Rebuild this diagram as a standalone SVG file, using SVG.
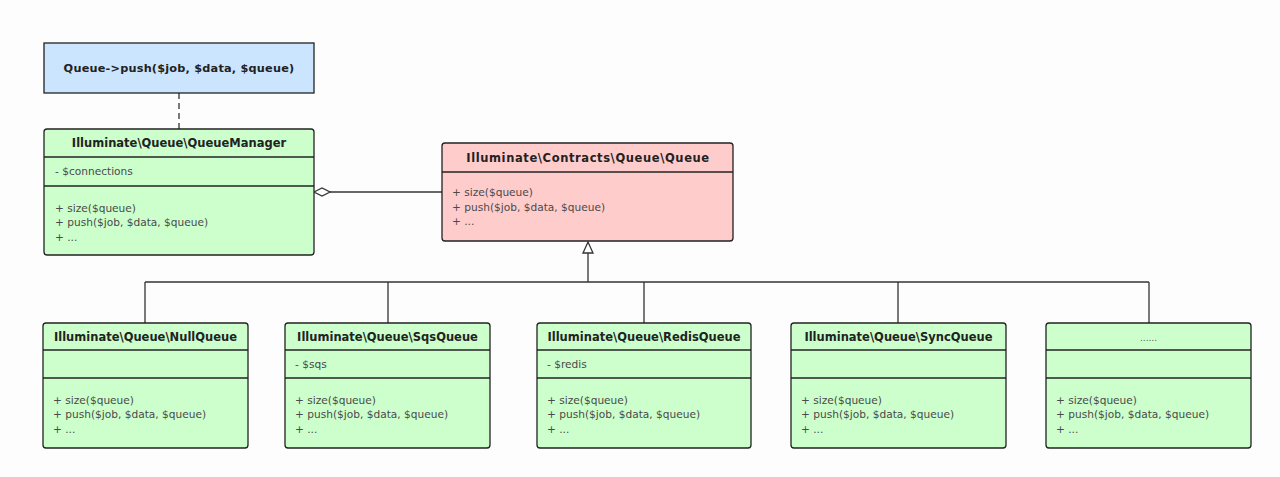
<svg xmlns="http://www.w3.org/2000/svg" width="1280" height="477" viewBox="0 0 1280 477">
<style>
.bg{fill:#fdfdfd}
.box{stroke:#222;stroke-width:1.3}
.green{fill:#ccffcc}
.blue{fill:#cce5ff}
.pink{fill:#ffcccc}
.sep{stroke:#222;stroke-width:1.3;fill:none}
.title{font-family:"DejaVu Sans",Verdana,sans-serif;font-weight:bold;font-size:11.5px;fill:#222;text-anchor:middle}
.mem{font-family:"DejaVu Sans",Verdana,sans-serif;font-size:10.6px;fill:#4a4a4a}
.dots{font-family:"DejaVu Sans",Verdana,sans-serif;font-size:9px;fill:#555;text-anchor:middle}
.conn{stroke:#333;stroke-width:1.3;fill:none}
</style>
<rect class="bg" x="0" y="0" width="1280" height="477"/>
<g id="connectors">
<line class="conn" x1="179" y1="93" x2="179" y2="129" stroke-dasharray="6,4"/>
<line class="conn" x1="330" y1="192" x2="442" y2="192"/>
<polygon points="314,192 322,188 330,192 322,196" fill="#fff" stroke="#333" stroke-width="1.3"/>
<line class="conn" x1="588" y1="253" x2="588" y2="282"/>
<polygon points="588,242 583,253 593,253" fill="#fff" stroke="#333" stroke-width="1.3"/>
<line class="conn" x1="145" y1="282" x2="1149" y2="282"/>
<line class="conn" x1="145" y1="282" x2="145" y2="323"/>
<line class="conn" x1="388" y1="282" x2="388" y2="323"/>
<line class="conn" x1="644" y1="282" x2="644" y2="323"/>
<line class="conn" x1="898" y1="282" x2="898" y2="323"/>
<line class="conn" x1="1149" y1="282" x2="1149" y2="323"/>
</g>
<g id="client">
<rect class="box blue" x="44" y="43" width="270" height="50"/>
<text class="title" x="179" y="72" style="font-size:11.3px;letter-spacing:0.2px">Queue-&gt;push($job, $data, $queue)</text>
</g>
<g id="QueueManager">
<rect class="box green" x="44" y="129" width="270" height="126" rx="3"/>
<line class="sep" x1="44" y1="157" x2="314" y2="157"/>
<line class="sep" x1="44" y1="186" x2="314" y2="186"/>
<text class="title" x="179" y="147">Illuminate\Queue\QueueManager</text>
<text class="mem" x="55" y="175">- $connections</text>
<text class="mem" x="55" y="212">+ size($queue)</text>
<text class="mem" x="55" y="226">+ push($job, $data, $queue)</text>
<text class="mem" x="55" y="241">+ ...</text>
</g>
<g id="QueueContract">
<rect class="box pink" x="442" y="143" width="291" height="98" rx="3"/>
<line class="sep" x1="442" y1="172" x2="733" y2="172"/>
<text class="title" x="588" y="162" style="letter-spacing:0.6px">Illuminate\Contracts\Queue\Queue</text>
<text class="mem" x="452" y="196">+ size($queue)</text>
<text class="mem" x="452" y="211">+ push($job, $data, $queue)</text>
<text class="mem" x="452" y="225">+ ...</text>
</g>
<g id="NullQueue">
<rect class="box green" x="43" y="323" width="205" height="125" rx="3"/>
<line class="sep" x1="43" y1="350" x2="248" y2="350"/>
<line class="sep" x1="43" y1="378" x2="248" y2="378"/>
<text class="title" x="145.5" y="341">Illuminate\Queue\NullQueue</text>
<text class="mem" x="53" y="404">+ size($queue)</text>
<text class="mem" x="53" y="418">+ push($job, $data, $queue)</text>
<text class="mem" x="53" y="433">+ ...</text>
</g>
<g id="SqsQueue">
<rect class="box green" x="285" y="323" width="205" height="125" rx="3"/>
<line class="sep" x1="285" y1="350" x2="490" y2="350"/>
<line class="sep" x1="285" y1="378" x2="490" y2="378"/>
<text class="title" x="387.5" y="341">Illuminate\Queue\SqsQueue</text>
<text class="mem" x="295" y="368">- $sqs</text>
<text class="mem" x="295" y="404">+ size($queue)</text>
<text class="mem" x="295" y="418">+ push($job, $data, $queue)</text>
<text class="mem" x="295" y="433">+ ...</text>
</g>
<g id="RedisQueue">
<rect class="box green" x="537" y="323" width="214" height="125" rx="3"/>
<line class="sep" x1="537" y1="350" x2="751" y2="350"/>
<line class="sep" x1="537" y1="378" x2="751" y2="378"/>
<text class="title" x="644" y="341">Illuminate\Queue\RedisQueue</text>
<text class="mem" x="547" y="368">- $redis</text>
<text class="mem" x="547" y="404">+ size($queue)</text>
<text class="mem" x="547" y="418">+ push($job, $data, $queue)</text>
<text class="mem" x="547" y="433">+ ...</text>
</g>
<g id="SyncQueue">
<rect class="box green" x="791" y="323" width="215" height="125" rx="3"/>
<line class="sep" x1="791" y1="350" x2="1006" y2="350"/>
<line class="sep" x1="791" y1="378" x2="1006" y2="378"/>
<text class="title" x="898.5" y="341">Illuminate\Queue\SyncQueue</text>
<text class="mem" x="801" y="404">+ size($queue)</text>
<text class="mem" x="801" y="418">+ push($job, $data, $queue)</text>
<text class="mem" x="801" y="433">+ ...</text>
</g>
<g id="OtherQueue">
<rect class="box green" x="1046" y="323" width="205" height="125" rx="3"/>
<line class="sep" x1="1046" y1="350" x2="1251" y2="350"/>
<line class="sep" x1="1046" y1="378" x2="1251" y2="378"/>
<text class="dots" x="1148.5" y="341">......</text>
<text class="mem" x="1056" y="404">+ size($queue)</text>
<text class="mem" x="1056" y="418">+ push($job, $data, $queue)</text>
<text class="mem" x="1056" y="433">+ ...</text>
</g>
</svg>
